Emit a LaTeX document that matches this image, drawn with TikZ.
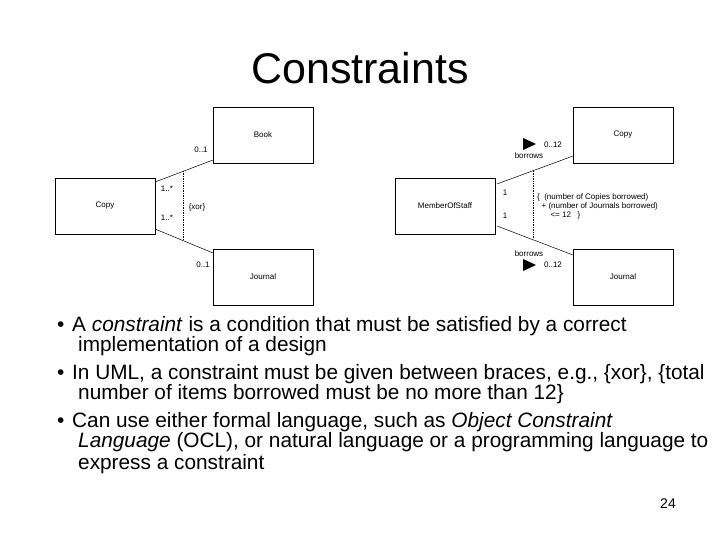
\documentclass[tikz,border=0pt]{standalone}
\usepackage{fontspec}
\setmainfont{Liberation Sans}
\begin{document}
\begin{tikzpicture}[x=1pt,y=-1pt,
  box/.style={draw,line width=0.6pt,minimum width=100pt,minimum height=56pt,font=\fontsize{8}{9}\selectfont,inner sep=0pt},
  lbl/.style={font=\fontsize{8}{9}\selectfont,inner sep=0pt},
  txt/.style={anchor=base west,font=\fontsize{20.8}{24}\selectfont,inner sep=0pt}]
\useasboundingbox (0,0) rectangle (720,540);
\node[font=\fontsize{43}{48}\selectfont] (title) at (360,68) {Constraints};
% left diagram
\node[box] (book) at (263,135) {Book};
\node[box] (copy) at (105,206) {Copy};
\node[box] (jour) at (263,277) {Journal};
\coordinate (c1) at (155,182); \coordinate (b1) at (213,160);
\coordinate (c2) at (155,229); \coordinate (j1) at (213,253);
\draw[line width=0.5pt] (c1) -- (b1);
\draw[line width=0.5pt] (c2) -- (j1);
\coordinate (d1) at (183,171); \coordinate (d2) at (183,240);
\draw[densely dotted,line width=0.7pt] (d1) -- (d2);
\node[lbl] (l1) at (201,150) {0..1};
\node[lbl] (l2) at (167,189) {1..*};
\node[lbl] (l3) at (197,207) {\{xor\}};
\node[lbl] (l4) at (167,218) {1..*};
\node[lbl] (l5) at (203,265) {0..1};
% right diagram
\node[box] (rcopy) at (623,135) {Copy};
\node[box] (staff) at (445,206) {MemberOfStaff};
\node[box] (rjour) at (623,277) {Journal};
\coordinate (s1) at (497,184); \coordinate (rc1) at (573,156);
\coordinate (s2) at (497,226); \coordinate (rj1) at (573,255);
\draw[line width=0.5pt] (s1) -- (rc1);
\draw[line width=0.5pt] (s2) -- (rj1);
\coordinate (e1) at (533,171); \coordinate (e2) at (533,239);
\draw[densely dotted,line width=0.7pt] (e1) -- (e2);
\fill (523,138) -- (536,144) -- (523,150) -- cycle;
\fill (523,259) -- (536,265) -- (523,271) -- cycle;
\node[lbl] (r1) at (553,145) {0..12};
\node[lbl] (r2) at (529,156) {borrows};
\node[lbl] (r3) at (505,193) {1};
\node[lbl] (r4) at (505,216) {1};
\node[lbl,anchor=west,align=left] (r5) at (537,206) {\{\ \ (number of Copies borrowed)\\\ \ + (number of Journals borrowed)\\\ \ \ \ \ \ \textless= 12\ \ \ \}};
\node[lbl] (r6) at (529,254) {borrows};
\node[lbl] (r7) at (553,265) {0..12};
% text
\node[txt] (b1t) at (57,331) {•};
\node[txt] (t1) at (72,331) {A \textit{constraint} is a condition that must be satisfied by a correct};
\node[txt] (t2) at (78,351) {implementation of a design};
\node[txt] (b2t) at (57,379) {•};
\node[txt] (t3) at (72,379) {In UML, a constraint must be given between braces, e.g., \{xor\}, \{total};
\node[txt] (t4) at (78,399) {number of items borrowed must be no more than 12\}};
\node[txt] (b3t) at (57,427) {•};
\node[txt] (t5) at (72,427) {Can use either formal language, such as \textit{Object Constraint}};
\node[txt] (t6) at (78,447) {\textit{Language} (OCL), or natural language or a programming language to};
\node[txt] (t7) at (78,469) {express a constraint};
\node[font=\fontsize{14}{16}\selectfont] (pg) at (668,504) {24};
\end{tikzpicture}
\end{document}
